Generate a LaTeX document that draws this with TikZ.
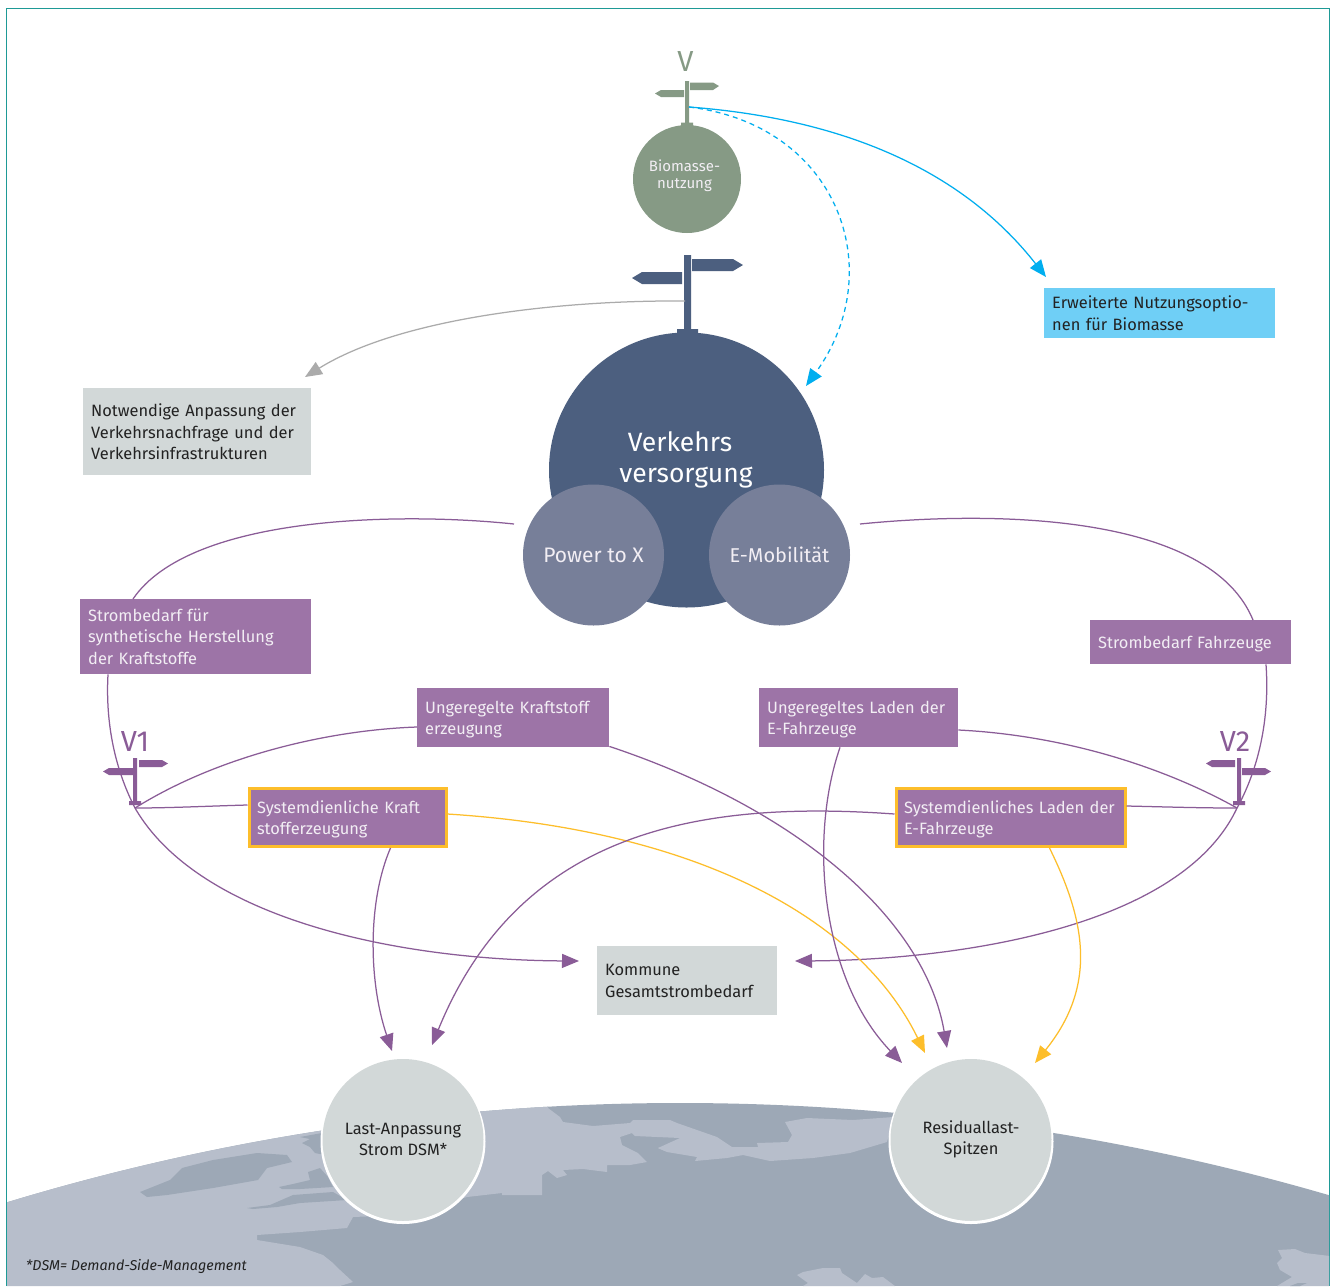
\documentclass[tikz,border=0pt]{standalone}
\usepackage{fontspec}
\setmainfont{Fira Sans}
\usetikzlibrary{arrows.meta}
\newcommand\upstrut{\rule{0pt}{16pt}}
\definecolor{frameteal}{HTML}{1E9A96}
\definecolor{landlight}{HTML}{B7BECB}
\definecolor{landdark}{HTML}{9DA8B6}
\definecolor{boxgray}{HTML}{D2D8D8}
\definecolor{boxblue}{HTML}{6FCFF6}
\definecolor{boxpurple}{HTML}{9D74A7}
\definecolor{linepurple}{HTML}{8A5C97}
\definecolor{lineorange}{HTML}{FDBE2B}
\definecolor{lineblue}{HTML}{00AEEF}
\definecolor{linegray}{HTML}{ABABAB}
\definecolor{sage}{HTML}{869A85}
\definecolor{navy}{HTML}{4C5F7F}
\definecolor{slate}{HTML}{777F99}
\definecolor{inkdark}{HTML}{222222}
\definecolor{paletext}{HTML}{F2EEF4}
\tikzset{
  x=1pt,y=-1pt,
  body/.style={font=\fontsize{16.4}{21.5}\selectfont},
  tbox/.style={body,anchor=north west,inner xsep=8pt,inner ysep=0pt,align=left},
  pbox/.style={tbox,fill=boxpurple,text=paletext},
  obox/.style={pbox,draw=lineorange,line width=3pt},
  gbox/.style={tbox,fill=boxgray,text=inkdark},
  cnode/.style={circle,inner sep=0pt,align=center},
  ringnode/.style={circle,inner sep=0pt,fill=boxgray,draw=white,line width=3pt,minimum size=162pt},
  link/.style={line width=1.25pt},
  tip/.style={-{Triangle[length=17pt,width=14pt]}},
  plink/.style={link,draw=linepurple},
  olink/.style={link,draw=lineorange},
  blink/.style={link,draw=lineblue},
  glink/.style={link,draw=linegray},
}
\begin{document}
\begin{tikzpicture}
\useasboundingbox (0,0) rectangle (1331,1286);
\fill[white] (0,0) rectangle (1331,1286);
% frame
\draw[frameteal,line width=1.2pt] (6.5,1286) -- (6.5,8.5) -- (1329.5,8.5) -- (1329.5,1286);
% globe
\begin{scope}
\clip (7,0) rectangle (1329,1286);
\clip (680,3419) circle[radius=2316pt];
\fill[landdark] (0,1050) rectangle (1331,1286);
\fill[landlight] (0,1090) -- (548,1090) -- (548,1108) -- (560,1117) -- (563,1122) -- (593,1126) -- (630,1123) -- (633,1120) -- (670,1120) -- (677,1123) -- (717,1137) -- (732,1147) -- (758,1147) -- (757,1143) -- (788,1142) -- (792,1135) -- (785,1122) -- (807,1118) -- (853,1120) -- (893,1117) -- (905,1125) -- (890,1130) -- (887,1142) -- (850,1153) -- (813,1158) -- (770,1161) -- (743,1155) -- (727,1158) -- (695,1161) -- (697,1157) -- (667,1152) -- (658,1148) -- (680,1138) -- (635,1136) -- (632,1133) -- (620,1137) -- (622,1145) -- (638,1153) -- (647,1162) -- (630,1165) -- (607,1165) -- (607,1172) -- (583,1169) -- (563,1170) -- (567,1175) -- (557,1178) -- (548,1171) -- (542,1175) -- (542,1195) -- (502,1195) -- (502,1193) -- (467,1197) -- (403,1215) -- (353,1217) -- (347,1228) -- (300,1232) -- (257,1235) -- (257,1240) -- (300,1247) -- (323,1255) -- (333,1263) -- (340,1270) -- (353,1282) -- (340,1286) -- (0,1286) -- cycle;
\fill[landlight] (658,1148) -- (670,1146) -- (685,1149) -- (680,1152) -- (665,1151) -- cycle;
\fill[landdark] (140,1192) -- (170,1180) -- (182,1168) -- (213,1160) -- (257,1153) -- (287,1155) -- (292,1162) -- (267,1168) -- (258,1180) -- (213,1188) -- (167,1195) -- (147,1197) -- cycle;
\fill[landdark] (302,1143) -- (310,1139) -- (300,1137) -- (322,1133) -- (325,1155) -- (315,1153) -- (310,1147) -- cycle;
\fill[landdark] (279,1187) -- (293,1184) -- (310,1180) -- (308,1172) -- (320,1168) -- (328,1177) -- (333,1187) -- (300,1189) -- (282,1189) -- cycle;
\fill[landdark] (247,1208) -- (270,1205) -- (293,1195) -- (333,1192) -- (347,1200) -- (300,1203) -- (277,1207) -- (253,1209) -- cycle;
\fill[landlight] (1278,1250) -- (1295,1249) -- (1305,1253) -- (1330,1256) -- (1330,1286) -- (1277,1286) -- (1292,1277) -- (1280,1270) -- (1277,1263) -- (1282,1258) -- cycle;
\fill[landdark] (1290,1286) -- (1298,1283) -- (1307,1283) -- (1300,1286) -- cycle;
\fill[landlight] (797,1275) -- (803,1272) -- (823,1268) -- (840,1268) -- (842,1273) -- (857,1283) -- (865,1274) -- (872,1278) -- (883,1277) -- (895,1286) -- (803,1286) -- (808,1283) -- cycle;
\end{scope}
% signposts
\fill[sage] (685,81) rectangle (689,123) (681,122.5) rectangle (693,127);
\fill[sage] (690,82.5) -- (713,82.5) -- (719,86) -- (713,90) -- (690,90) -- cycle;
\fill[sage] (684,90) -- (661,90) -- (655,93.5) -- (661,97) -- (684,97) -- cycle;
\fill[navy] (684,255) rectangle (691,330) (677,329) rectangle (698,336);
\fill[navy] (692,259) -- (733,259) -- (743,265) -- (733,271) -- (692,271) -- cycle;
\fill[navy] (682,272) -- (642,272) -- (632,278) -- (642,284) -- (682,284) -- cycle;
\fill[linepurple] (133,758) rectangle (137,802) (129,801) rectangle (141,805);
\fill[linepurple] (139,760) -- (162,760) -- (168,763.5) -- (162,767) -- (139,767) -- cycle;
\fill[linepurple] (133,768) -- (109,768) -- (103,771.5) -- (109,775) -- (133,775) -- cycle;
\fill[linepurple] (1237,758) rectangle (1241,802) (1233,801) rectangle (1245,805);
\fill[linepurple] (1242,768) -- (1265,768) -- (1271,771.5) -- (1265,775) -- (1242,775) -- cycle;
\fill[linepurple] (1235,760) -- (1212,760) -- (1206,763.5) -- (1212,767) -- (1235,767) -- cycle;
% labels of the signposts
\node[font=\fontsize{29}{29}\selectfont,text=sage,inner sep=0pt] (lv) at (685.5,62) {V};
\node[font=\fontsize{29}{29}\selectfont,text=linepurple,inner sep=0pt] (lv1) at (135,741) {V1};
\node[font=\fontsize{29}{29}\selectfont,text=linepurple,inner sep=0pt] (lv2) at (1235,741) {V2};
% circles
\node[cnode,fill=sage,minimum size=108pt] (bio) at (687,179) {};
\node[inner sep=0pt,align=center,text=paletext,font=\fontsize{15}{17}\selectfont] (biolab) at (684.5,176) {Biomasse-\\nutzung};
\node[cnode,fill=navy,minimum size=275pt] (verk) at (686.5,470) {};
\node[inner sep=0pt,align=center,text=white,font=\fontsize{26.5}{31}\selectfont] (verklab) at (686,460) {Verkehrs\hspace*{12pt}\\versorgung};
\node[cnode,fill=slate,minimum size=141pt,text=paletext,font=\fontsize{21}{22}\selectfont] (ptx) at (593.5,555) {Power to X};
\node[cnode,fill=slate,minimum size=141pt,text=paletext,font=\fontsize{20}{22}\selectfont] (emob) at (779.5,555) {E-Mobilität};
\node[ringnode] (lastring) at (403,1141.5) {};
\node[ringnode] (residring) at (971,1141.5) {};
\node[cnode,fill=boxgray,minimum size=161pt,text=inkdark,body] (last) at (403,1139.5) {Last-Anpassung\\Strom DSM*};
\node[cnode,fill=boxgray,minimum size=161pt,text=inkdark,body] (resid) at (971,1139.5) {Residuallast-\\Spitzen};
% boxes
\node[gbox,text width=212pt,minimum height=87pt] (notw) at (83,388) {Notwendige Anpassung der\\Verkehrsnachfrage und der\\Verkehrsinfrastrukturen};
\node[tbox,fill=boxblue,text=inkdark,text width=215pt,minimum height=50pt] (erw) at (1044,288) {Erweiterte Nutzungsoptio-\\nen für Biomasse};
\node[pbox,text width=215pt,minimum height=75pt] (sf) at (80,599) {Strombedarf für\\synthetische Herstellung\\der Kraftstoffe};
\node[pbox,text width=185pt,minimum height=44pt] (sfz) at (1090,620) {\upstrut Strombedarf Fahrzeuge};
\node[pbox,text width=176pt,minimum height=59pt] (uk) at (417,688) {\upstrut Ungeregelte Kraftstoff\\erzeugung};
\node[pbox,text width=183pt,minimum height=59pt] (ul) at (759,688) {\upstrut Ungeregeltes Laden der\\E-Fahrzeuge};
\node[obox,text width=181pt,minimum height=58pt,xshift=0.5pt] (sk) at (247,787) {\upstrut Systemdienliche Kraft\\stofferzeugung};
\node[obox,text width=213pt,minimum height=58pt] (sl) at (894.5,787) {\upstrut Systemdienliches Laden der\\E-Fahrzeuge};
\node[gbox,text width=164pt,minimum height=69pt] (komm) at (597,946) {Kommune\\Gesamtstrombedarf};
\node[anchor=west,inner sep=0pt,text=inkdark,font=\fontsize{14.3}{16}\selectfont\itshape] (dsm) at (26,1266) {*DSM= Demand-Side-Management};
% free ends
\coordinate (hubv) at (689,107);
\coordinate (hubn) at (685,301);
\coordinate (hub1) at (135,808);
\coordinate (hub2) at (1237,808);
\coordinate (ptxend) at (514,524);
\coordinate (emobend) at (860,524);
\coordinate (toerw) at (1046,277);
\coordinate (toverk) at (806,386);
\coordinate (tonotw) at (305,377);
\coordinate (tokl) at (579,961);
\coordinate (tokr) at (795,961);
\coordinate (tolast1) at (392,1051);
\coordinate (tolast2) at (432,1045);
\coordinate (tores1) at (902,1063);
\coordinate (tores2) at (925,1053);
\coordinate (tores3) at (947,1048);
\coordinate (tores4) at (1035,1063);
% connectors
\draw[blink,tip] (hubv) .. controls (860,120) and (970,180) .. (toerw);
\draw[blink,tip,dash pattern=on 5pt off 4pt] (hubv) .. controls (838,125) and (890,270) .. (toverk);
\draw[glink,tip] (hubn) .. controls (560,300) and (400,318) .. (tonotw);
\draw[plink] (ptxend) .. controls (400,512) and (190,515) .. ([xshift=53pt]sf.north west);
\draw[plink] (emobend) .. controls (1000,510) and (1210,515) .. ([xshift=163pt]sfz.north west);
\draw[plink] ([xshift=28pt]sf.south west) .. controls (105,730) and (118,775) .. (hub1);
\draw[plink,tip] (hub1) .. controls (200,920) and (400,960) .. (tokl);
\draw[plink] ([xshift=176pt]sfz.south west) .. controls (1270,720) and (1258,770) .. (hub2);
\draw[plink,tip] (hub2) .. controls (1180,930) and (950,960) .. (tokr);
\draw[plink] (hub1) .. controls (220,755) and (330,730) .. ([yshift=-39pt]uk.north west);
\draw[plink,tip] ([yshift=1pt]uk.south east) .. controls (800,810) and (925,920) .. (tores3);
\draw[plink] (hub1) .. controls (170,808) and (210,806) .. ([yshift=-18pt]sk.north west);
\draw[plink,tip] ([xshift=143pt]sk.south west) .. controls (368,900) and (368,980) .. (tolast1);
\draw[olink,tip] ([yshift=-27pt]sk.north east) .. controls (700,830) and (860,920) .. (tores2);
\draw[plink] ([yshift=-42pt]ul.north east) .. controls (1060,735) and (1160,765) .. (hub2);
\draw[plink,tip] ([xshift=81pt]ul.south west) .. controls (808,840) and (822,980) .. (tores1);
\draw[plink] ([yshift=-19pt]sl.north east) .. controls (1170,807) and (1200,808) .. (hub2);
\draw[plink,tip] ([yshift=-27pt]sl.north west) .. controls (700,800) and (520,830) .. (tolast2);
\draw[olink,tip] ([xshift=155pt]sl.south west) .. controls (1085,920) and (1098,985) .. (tores4);
\end{tikzpicture}
\end{document}
